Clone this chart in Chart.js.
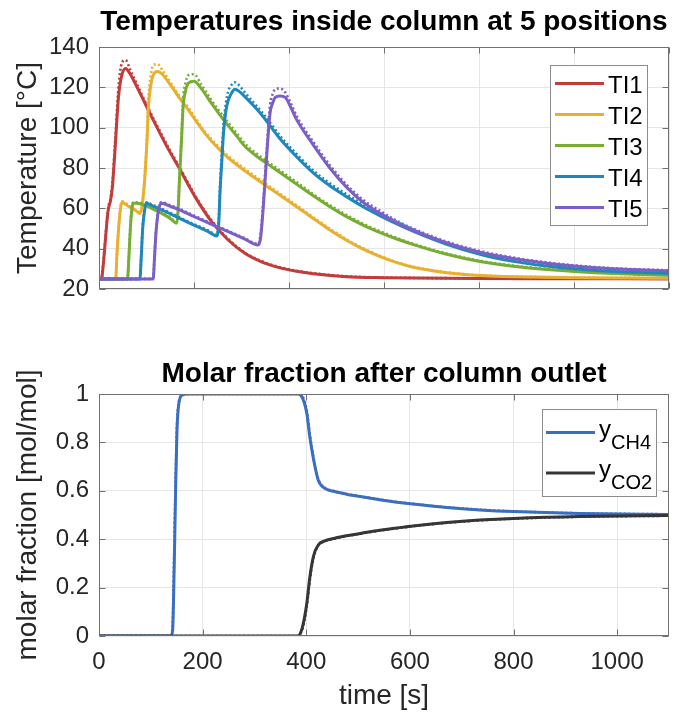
<!DOCTYPE html>
<html><head><meta charset="utf-8">
<script src="https://cdn.jsdelivr.net/npm/chart.js@4/dist/chart.umd.min.js"></script>
<style>
html,body{margin:0;padding:0;background:#fff;}
#wrap{position:relative;width:677px;height:713px;background:#fff;}
canvas{position:absolute;left:0;top:0;}
</style></head><body>
<div id="wrap">
<canvas id="cTop" width="677" height="713"></canvas>
<canvas id="cBot" width="677" height="713"></canvas>
</div>
<script>
// ---------- tick values ----------
const xTicksTop = [0, 200, 400, 600, 800, 1000, 1200];
const yTicksTop = [20, 40, 60, 80, 100, 120, 140];
const xTicksBot = [0, 200, 400, 600, 800, 1000];
const yTicksBot = [0, 0.2, 0.4, 0.6, 0.8, 1];

// ---------- titles / labels ----------
const titleTop = 'Temperatures inside column at 5 positions';
const titleBot = 'Molar fraction after column outlet';
const yLabelTop = 'Temperature [°C]';
const yLabelBot = 'molar fraction [mol/mol]';
const xLabelBot = 'time [s]';
const legendTop = ['TI1', 'TI2', 'TI3', 'TI4', 'TI5'];
const legendBot = [['y', 'CH4'], ['y', 'CO2']];

// ---------- temperatures (time [s], T [°C]) ----------
const tTI1 = [0, 5, 9, 13, 17, 20, 24, 28, 34, 41, 48, 56, 66, 76, 97, 118, 143, 167, 202, 237, 272, 307, 342, 381, 416, 451, 521, 600, 661, 800, 1000, 1200];
const TI1_sim = [25, 25, 32, 43, 54, 60, 63.5, 70, 90, 115, 126, 129.4, 126.5, 122, 112, 102, 90.6, 80.7, 65.8, 53.4, 44.3, 37.7, 33.5, 30.5, 28.8, 27.6, 26.1, 25.6, 25.4, 25.2, 25.1, 25];
const TI1_exp = [25, 25, 33, 44, 55, 61, 64.5, 72, 93, 120, 132, 133.5, 128.5, 123.5, 113, 103, 91.5, 81.5, 66.5, 54, 44.8, 38, 33.8, 30.8, 29, 27.8, 26.3, 25.7, 25.5, 25.3, 25.2, 25.1];

const tTI2 = [0, 35, 38, 42, 46, 49, 55, 62, 69, 78, 86, 90, 94, 97, 101, 104, 109, 114, 123, 135, 153, 170, 188, 205, 223, 248, 272, 307, 356, 381, 416, 451, 486, 521, 556, 592, 627, 662, 732, 802, 942, 1200];
const TI2_sim = [25, 25, 38, 52, 61, 63, 62.2, 61, 60, 58.8, 57.5, 60, 68, 77, 93, 110, 121, 126, 127.8, 126, 120.3, 114.5, 108.8, 103, 97.2, 90.5, 85, 78.6, 70.5, 66.5, 60.8, 55, 49.3, 44.2, 39.8, 36.1, 33.1, 30.8, 28.1, 26.7, 25.8, 25.3];
const TI2_exp = [25, 25, 39, 53, 62, 63.5, 62.8, 61.5, 60.4, 59, 57.8, 60.5, 69, 79, 96, 114, 126, 131, 131.5, 128, 121.5, 115.5, 110, 104, 98, 91.5, 86, 79.6, 71.4, 67.3, 61.5, 55.6, 49.9, 44.7, 40.2, 36.4, 33.3, 31, 28.3, 26.8, 25.9, 25.4];

const tTI3 = [0, 60, 63, 66, 69, 72, 80, 97, 115, 132, 150, 163, 166, 170, 174, 177, 182, 188, 200, 215, 237, 254, 272, 290, 307, 330, 356, 381, 416, 451, 486, 521, 556, 592, 627, 662, 732, 802, 872, 942, 1082, 1200];
const TI3_sim = [25, 25, 36, 50, 59, 62.5, 62.5, 61.5, 59.5, 57.5, 55, 52.6, 57, 77, 95, 110, 118, 122, 123, 119.5, 112, 106.5, 101, 95.8, 90.8, 86.2, 81.8, 77.8, 72, 66.2, 60.8, 55.9, 51.7, 48, 44.8, 42, 37.2, 33.6, 31.3, 29.7, 27.7, 26.8];
const TI3_exp = [25, 25, 37, 51, 60, 63, 63, 62, 60, 58, 55.5, 53, 58, 79, 98, 114, 122, 126, 126.5, 121.5, 113.5, 108, 102.5, 97.2, 92.2, 87.4, 83, 78.8, 73, 67, 61.6, 56.7, 52.4, 48.6, 45.3, 42.4, 37.6, 34, 31.6, 30, 27.9, 27];

const tTI4 = [0, 86, 89, 92, 96, 100, 110, 132, 167, 202, 230, 248, 252, 255, 259, 262, 267, 272, 280, 286, 295, 307, 325, 342, 360, 381, 416, 451, 486, 521, 556, 592, 627, 662, 732, 802, 872, 942, 1012, 1082, 1200];
const TI4_sim = [25, 25, 36, 50, 59, 62.5, 61.5, 59.3, 55.3, 51.4, 48.5, 46.3, 52, 69, 85, 97, 108, 113.5, 117.5, 119, 118, 115.4, 111, 106.5, 101, 94.5, 85.6, 77.6, 71.2, 65.8, 60.8, 56.3, 52.3, 48.6, 42.2, 37.2, 33.7, 31.4, 29.8, 28.7, 27.7];
const TI4_exp = [25, 25, 37, 51, 60, 63, 62, 59.8, 55.8, 51.9, 49, 46.8, 54, 72, 89, 101, 112, 118, 121.5, 122.5, 121, 117.5, 112.5, 108, 102.5, 96, 86.9, 78.8, 72.4, 67, 62, 57.4, 53.3, 49.5, 42.9, 37.8, 34.2, 31.8, 30.1, 29, 27.9];

const tTI5 = [0, 114, 117, 120, 124, 128, 132, 150, 167, 202, 237, 272, 305, 335, 340, 346, 353, 360, 366, 371, 381, 392, 404, 416, 451, 486, 521, 556, 592, 627, 662, 732, 802, 872, 942, 1012, 1082, 1200];
const TI5_sim = [25, 25, 36, 48, 57, 61.5, 62.5, 61, 59.5, 55.7, 52, 48.4, 45, 41.8, 45, 60.8, 85.6, 107, 112.5, 115, 115.7, 115, 110, 104, 91.5, 80, 70.5, 63, 57.5, 52.8, 49, 42.8, 38.2, 35.1, 32.8, 31.1, 30, 29];
const TI5_exp = [25, 25, 37, 49, 58, 62.5, 63, 61.5, 60, 56.2, 52.5, 48.8, 45.4, 42.3, 47, 64, 89, 111, 117, 119, 119.5, 117.5, 112, 105.8, 93, 81.4, 71.8, 64.2, 58.7, 53.8, 49.9, 43.5, 38.8, 35.6, 33.2, 31.5, 30.3, 29.3];

// ---------- molar fractions (time [s], y [mol/mol]) ----------
const tCH4 = [0, 138, 142, 145, 148, 150.5, 154, 161, 170, 200, 300, 385, 391, 396, 401, 407, 414, 423, 436, 455, 480, 507, 542, 571, 606, 671, 735, 800, 928, 1100];
const yCH4_sim = [0, 0, 0.02, 0.27, 0.62, 0.85, 0.96, 0.996, 1, 1, 1, 1, 0.99, 0.965, 0.92, 0.82, 0.73, 0.645, 0.61, 0.597, 0.585, 0.575, 0.563, 0.554, 0.545, 0.531, 0.521, 0.514, 0.506, 0.502];
const yCH4_exp = [0, 0, 0.04, 0.33, 0.66, 0.87, 0.965, 0.997, 1, 1, 1, 1, 0.995, 0.975, 0.93, 0.83, 0.735, 0.648, 0.612, 0.598, 0.586, 0.576, 0.564, 0.555, 0.546, 0.532, 0.522, 0.515, 0.507, 0.503];

const tCO2 = [0, 384, 391, 396, 401, 407, 414, 423, 436, 455, 480, 507, 542, 571, 606, 671, 735, 800, 928, 1100];
const yCO2_sim = [0, 0, 0.025, 0.07, 0.135, 0.245, 0.33, 0.376, 0.393, 0.404, 0.415, 0.425, 0.437, 0.445, 0.455, 0.469, 0.479, 0.486, 0.494, 0.498];
const yCO2_exp = [0, 0, 0.02, 0.06, 0.125, 0.235, 0.325, 0.374, 0.392, 0.403, 0.414, 0.424, 0.436, 0.444, 0.454, 0.468, 0.478, 0.485, 0.493, 0.497];

// ---------- styling ----------
const FONT = "'Liberation Sans', Arial, Helvetica, sans-serif";
const colorsTop = ['#c23c3c', '#e9b030', '#77ad33', '#1f87bb', '#7c5fc6'];
const colorsBot = ['#3c6ebf', '#363636'];
const GRID = '#e6e6e6';
const AXIS = '#707070';
const TEXT = '#262626';

const topTable = [
  [tTI1, TI1_sim, TI1_exp], [tTI2, TI2_sim, TI2_exp], [tTI3, TI3_sim, TI3_exp],
  [tTI4, TI4_sim, TI4_exp], [tTI5, TI5_sim, TI5_exp]
];
const botTable = [[tCH4, yCH4_sim, yCH4_exp], [tCO2, yCO2_sim, yCO2_exp]];

function pts(t, v) { return t.map((x, i) => ({ x: x, y: v[i] })); }
function buildSets(table, colors, labels) {
  const sets = [];
  table.forEach((row, i) => {
    sets.push({ label: labels[i] + ' sim', data: pts(row[0], row[1]), borderColor: colors[i],
      borderWidth: 3, pointRadius: 0, cubicInterpolationMode: 'monotone', order: 100 - 2 * i - 1 });
    sets.push({ label: labels[i] + ' exp', data: pts(row[0], row[2]), borderColor: colors[i],
      borderWidth: 2.6, borderDash: [2, 2.5], pointRadius: 0, cubicInterpolationMode: 'monotone', order: 100 - 2 * i });
  });
  return sets;
}

function frameAndText(cfg) {
  return {
    id: 'frame_' + cfg.name,
    afterDatasetsDraw(chart) {
      const ctx = chart.ctx, a = chart.chartArea, xs = chart.scales.x, ys = chart.scales.y;
      ctx.save();
      ctx.strokeStyle = AXIS; ctx.lineWidth = 1;
      const L = Math.round(a.left) + 0.5, R = Math.round(a.right) - 0.5, T = Math.round(a.top) + 0.5, B = Math.round(a.bottom) - 0.5;
      ctx.beginPath();
      cfg.xt.forEach(v => { const p = Math.round(xs.getPixelForValue(v)) + 0.5;
        ctx.moveTo(p, B); ctx.lineTo(p, B - 6); ctx.moveTo(p, T); ctx.lineTo(p, T + 6); });
      cfg.yt.forEach(v => { const p = Math.round(ys.getPixelForValue(v)) + 0.5;
        ctx.moveTo(L, p); ctx.lineTo(L + 6, p); ctx.moveTo(R, p); ctx.lineTo(R - 6, p); });
      ctx.stroke();
      ctx.strokeRect(L, T, R - L, B - T);
      // legend
      const lg = cfg.legend;
      ctx.fillStyle = '#ffffff';
      ctx.fillRect(lg.x0, lg.y0, lg.x1 - lg.x0, lg.y1 - lg.y0);
      ctx.strokeStyle = '#8c8c8c';
      ctx.strokeRect(lg.x0 + 0.5, lg.y0 + 0.5, lg.x1 - lg.x0, lg.y1 - lg.y0);
      lg.items.forEach((it, i) => {
        const y = lg.firstY + i * lg.step;
        ctx.strokeStyle = it.color; ctx.lineWidth = 3; ctx.setLineDash([]);
        ctx.beginPath(); ctx.moveTo(lg.lx0, y); ctx.lineTo(lg.lx1, y); ctx.stroke();
        ctx.fillStyle = '#000'; ctx.textAlign = 'left'; ctx.textBaseline = 'alphabetic';
        if (Array.isArray(it.text)) {
          ctx.font = '24px ' + FONT;
          ctx.fillText(it.text[0], lg.tx, y + lg.base);
          const w = ctx.measureText(it.text[0]).width;
          ctx.font = '20px ' + FONT;
          ctx.fillText(it.text[1], lg.tx + w, y + lg.base + 12);
        } else {
          ctx.font = '24px ' + FONT;
          ctx.fillText(it.text, lg.tx, y + lg.base);
        }
      });
      // titles and axis labels
      ctx.fillStyle = '#000'; ctx.textAlign = 'center'; ctx.textBaseline = 'alphabetic';
      ctx.font = 'bold 28px ' + FONT;
      ctx.fillText(cfg.title, (a.left + a.right) / 2, cfg.titleY);
      ctx.fillStyle = TEXT; ctx.font = '28px ' + FONT;
      ctx.save();
      ctx.translate(36, (a.top + a.bottom) / 2);
      ctx.rotate(-Math.PI / 2);
      ctx.fillText(cfg.ylabel, 0, 0);
      ctx.restore();
      if (cfg.xlabel) ctx.fillText(cfg.xlabel, (a.left + a.right) / 2, 704);
      ctx.restore();
    }
  };
}

function scaleOpts(min, max, ticksArr, showLabels, isX, pad, fitSize) {
  return {
    type: 'linear', min: min, max: max,
    afterBuildTicks: s => { s.ticks = ticksArr.map(v => ({ value: v })); },
    ticks: { display: showLabels, font: { family: FONT, size: 24 }, color: TEXT, padding: pad,
      autoSkip: false, maxRotation: 0, callback: v => String(v) },
    grid: { color: GRID, lineWidth: 1, drawTicks: false },
    border: { display: false },
    afterFit: s => { if (isX) s.height = fitSize; else s.width = fitSize; }
  };
}

Chart.defaults.font.family = FONT;

new Chart(document.getElementById('cTop'), {
  type: 'line',
  data: { datasets: buildSets(topTable, colorsTop, legendTop) },
  options: {
    responsive: false, animation: false, devicePixelRatio: 1,
    layout: { padding: { left: 0, right: 8, top: 47, bottom: 424 } },
    plugins: { legend: { display: false }, tooltip: { enabled: false }, title: { display: false } },
    scales: {
      x: scaleOpts(0, 1200, xTicksTop, false, true, 0, 0),
      y: scaleOpts(20, 140, yTicksTop, true, false, 10, 99)
    }
  },
  plugins: [frameAndText({
    name: 'top', xt: xTicksTop, yt: yTicksTop, title: titleTop, titleY: 30, ylabel: yLabelTop, xlabel: null,
    legend: { x0: 550, y0: 65, x1: 647, y1: 225, firstY: 83.5, step: 31, lx0: 555, lx1: 604, tx: 608, base: 9,
      items: legendTop.map((t, i) => ({ text: t, color: colorsTop[i] })) }
  })]
});

new Chart(document.getElementById('cBot'), {
  type: 'line',
  data: { datasets: buildSets(botTable, colorsBot, ['CH4', 'CO2']) },
  options: {
    responsive: false, animation: false, devicePixelRatio: 1,
    layout: { padding: { left: 0, right: 8, top: 394, bottom: 0 } },
    plugins: { legend: { display: false }, tooltip: { enabled: false }, title: { display: false } },
    scales: {
      x: scaleOpts(0, 1100, xTicksBot, true, true, 12, 77),
      y: scaleOpts(0, 1, yTicksBot, true, false, 10, 99)
    }
  },
  plugins: [frameAndText({
    name: 'bot', xt: xTicksBot, yt: yTicksBot, title: titleBot, titleY: 382, ylabel: yLabelBot, xlabel: xLabelBot,
    legend: { x0: 542, y0: 409, x1: 656, y1: 496, firstY: 432.5, step: 40.5, lx0: 546, lx1: 595, tx: 599, base: 4,
      items: legendBot.map((t, i) => ({ text: t, color: colorsBot[i] })) }
  })]
});
</script>
</body></html>
